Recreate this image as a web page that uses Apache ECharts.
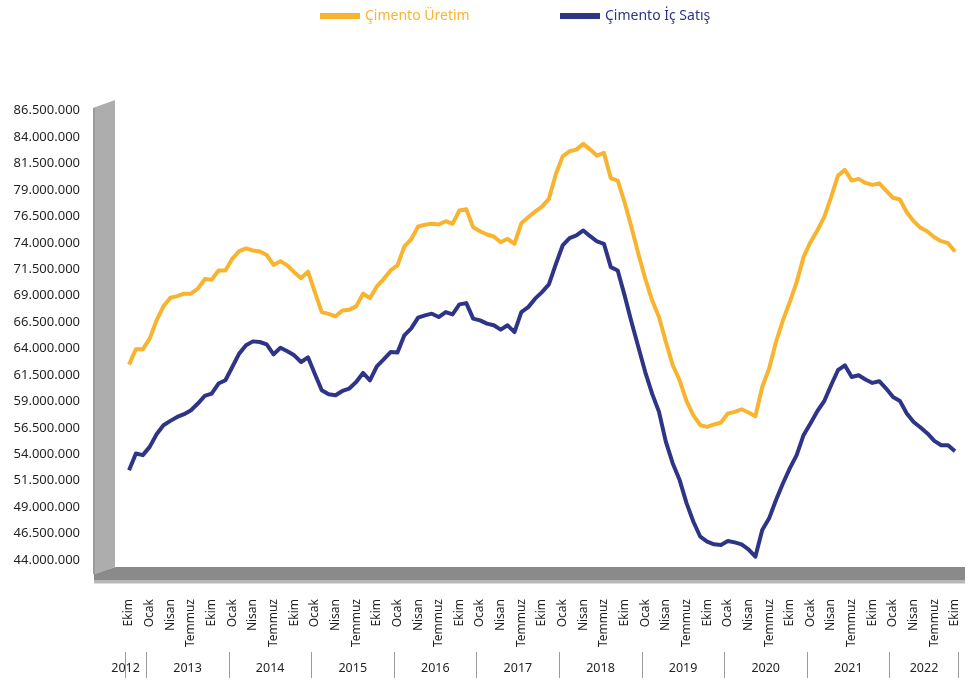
<!DOCTYPE html>
<html>
<head>
<meta charset="utf-8">
<script src="https://cdn.jsdelivr.net/npm/echarts@6/dist/echarts.min.js"></script>
<style>
  html, body { margin: 0; padding: 0; background: #fff; }
  #main { width: 970px; height: 681px; }
</style>
</head>
<body>
<div id="main"></div>
<script>
// month names and years on the axis (Ekim 2012 .. Ekim 2022)
const monthNames = ['Ocak', 'Şubat', 'Mart', 'Nisan', 'Mayıs', 'Haziran', 'Temmuz', 'Ağustos', 'Eylül', 'Ekim', 'Kasım', 'Aralık'];
const years = [2012, 2013, 2014, 2015, 2016, 2017, 2018, 2019, 2020, 2021, 2022];
const firstMonth = 9;   // Ekim 2012
const lastMonth = 9;    // Ekim 2022

// y axis ticks (millions)
const yMin = 44;
const yMax = 86.5;
const yStep = 2.5;

// 12-month totals, millions of tonnes
const uretim = [
  62.48, 63.93, 63.93, 64.94, 66.67, 67.99, 68.81, 68.96, 69.19, 69.19, 69.66, 70.57,
  70.51, 71.39, 71.39, 72.49, 73.21, 73.47, 73.28, 73.18, 72.85, 71.91, 72.27, 71.86,
  71.23, 70.66, 71.27, 69.34, 67.45, 67.28, 67.05, 67.61, 67.68, 67.99, 69.19, 68.77,
  69.88, 70.57, 71.39, 71.86, 73.66, 74.34, 75.55, 75.71, 75.80, 75.73, 76.05, 75.80,
  77.06, 77.18, 75.48, 75.10, 74.79, 74.60, 74.06, 74.38, 73.91, 75.86, 76.42, 76.96,
  77.43, 78.16, 80.46, 82.18, 82.66, 82.82, 83.36, 82.82, 82.25, 82.51, 80.11, 79.89,
  77.84, 75.48, 72.97, 70.61, 68.56, 66.98, 64.62, 62.42, 61.00, 59.02, 57.69, 56.75,
  56.59, 56.82, 57.01, 57.86, 58.01, 58.26, 57.95, 57.60, 60.37, 62.11, 64.62, 66.67,
  68.40, 70.28, 72.65, 74.06, 75.17, 76.44, 78.31, 80.36, 80.90, 79.89, 80.05, 79.67,
  79.48, 79.63, 78.95, 78.26, 78.10, 76.90, 76.05, 75.42, 75.07, 74.53, 74.16, 73.97,
  73.18
];
const icSatis = [
  52.50, 54.08, 53.92, 54.70, 55.90, 56.75, 57.16, 57.53, 57.79, 58.17, 58.80, 59.52,
  59.74, 60.69, 61.00, 62.26, 63.52, 64.31, 64.68, 64.62, 64.40, 63.46, 64.07, 63.74,
  63.36, 62.73, 63.17, 61.60, 60.06, 59.68, 59.58, 59.99, 60.22, 60.84, 61.69, 61.00,
  62.32, 62.98, 63.67, 63.62, 65.25, 65.91, 66.92, 67.14, 67.30, 66.98, 67.45, 67.23,
  68.18, 68.30, 66.83, 66.67, 66.36, 66.20, 65.79, 66.20, 65.56, 67.45, 67.92, 68.72,
  69.34, 70.07, 71.96, 73.75, 74.44, 74.70, 75.17, 74.63, 74.13, 73.91, 71.70, 71.39,
  69.03, 66.51, 64.15, 61.78, 59.74, 58.01, 55.17, 53.13, 51.56, 49.38, 47.62, 46.20,
  45.73, 45.48, 45.42, 45.79, 45.67, 45.48, 45.01, 44.31, 46.83, 47.94, 49.67, 51.24,
  52.66, 53.92, 55.81, 56.91, 58.07, 59.02, 60.53, 61.95, 62.42, 61.31, 61.47, 61.07,
  60.75, 60.91, 60.22, 59.42, 59.05, 57.86, 57.06, 56.53, 55.97, 55.27, 54.86, 54.86,
  54.29
];

const ORANGE = '#F8B42E';
const NAVY = '#2E3586';
const TEXT = '#231F20';

// categories: "Ekim 2012" ...
const categories = [];
const yearOf = [];
years.forEach((y, yi) => {
  const m0 = yi === 0 ? firstMonth : 0;
  const m1 = yi === years.length - 1 ? lastMonth : 11;
  for (let m = m0; m <= m1; m++) {
    categories.push(monthNames[m] + ' ' + y);
    yearOf.push(y);
  }
});

// year bands on a value axis that lines up with the category bands
const yearBounds = [];
const yearCenters = [];
years.forEach((y, yi) => {
  const first = yearOf.indexOf(y);
  const last = yearOf.lastIndexOf(y);
  yearBounds.push(first - 0.5);
  yearCenters.push(yi === 0 ? first - 0.5 : (first + last) / 2);
});
yearBounds.push(categories.length - 0.5);

const fmt = v => Math.round(v * 1e6).toString().replace(/\B(?=(\d{3})+(?!\d))/g, '.');

const W = 970, H = 681;
const grid = { left: 125.6, right: 11.6, top: 110.7, bottom: 121 };
const gx = grid.left;
const gy = H - grid.bottom;

const chart = echarts.init(document.getElementById('main'));

const option = {
  backgroundColor: '#fff',
  animation: false,
  textStyle: { fontFamily: 'Noto Sans' },
  legend: [
    {
      data: [{ name: 'Çimento Üretim', textStyle: { color: ORANGE } }],
      left: 315, top: 4,
      icon: 'rect', itemWidth: 40, itemHeight: 6, itemGap: 8,
      textStyle: { fontSize: 14, fontFamily: 'Noto Sans' }
    },
    {
      data: [{ name: 'Çimento İç Satış', textStyle: { color: NAVY } }],
      left: 555, top: 4,
      icon: 'rect', itemWidth: 40, itemHeight: 6, itemGap: 8,
      textStyle: { fontSize: 14, fontFamily: 'Noto Sans' }
    }
  ],
  grid: grid,
  xAxis: [
    {
      type: 'category',
      data: categories,
      boundaryGap: true,
      axisLine: { show: false },
      axisTick: { show: false },
      axisLabel: {
        interval: i => i % 3 === 0,
        rotate: 90,
        margin: 39,
        fontSize: 12,
        color: TEXT,
        formatter: v => v.split(' ')[0]
      }
    },
    {
      type: 'value',
      position: 'bottom',
      offset: 92,
      min: -0.5,
      max: categories.length - 0.5,
      splitLine: { show: false },
      axisLine: { show: false },
      axisTick: {
        show: true,
        length: 26,
        customValues: yearBounds,
        lineStyle: { color: '#9a9a9a', width: 1 }
      },
      axisLabel: {
        customValues: yearCenters,
        margin: 10,
        fontSize: 12.5,
        color: TEXT,
        formatter: v => String(years[yearCenters.indexOf(v)])
      }
    }
  ],
  yAxis: {
    type: 'value',
    min: yMin,
    max: yMax,
    interval: yStep,
    splitLine: { show: false },
    axisLine: { show: false },
    axisTick: { show: false },
    axisLabel: {
      margin: 45.6,
      fontSize: 13,
      color: TEXT,
      formatter: fmt
    }
  },
  graphic: [
    // floor slab
    {
      type: 'polygon', silent: true, z: -1,
      shape: { points: [[gx - 31.6, gy + 14], [gx - 10.6, gy + 7], [W - 5, gy + 7], [W - 5, gy + 20], [gx - 31.6, gy + 20]] },
      style: { fill: '#8a8a8a' }
    },
    {
      type: 'rect', silent: true, z: -1,
      shape: { x: gx - 31.6, y: gy + 20, width: W - 5 - (gx - 31.6), height: 3.5 },
      style: { fill: '#b8b8b8' }
    },
    // back wall
    {
      type: 'polygon', silent: true, z: -1,
      shape: { points: [[gx - 32.6, gy - 452], [gx - 30.6, gy - 452.7], [gx - 30.6, gy + 14], [gx - 32.6, gy + 14]] },
      style: { fill: '#9c9c9c' }
    },
    {
      type: 'polygon', silent: true, z: -1,
      shape: { points: [[gx - 30.6, gy - 452.7], [gx - 10.6, gy - 460], [gx - 10.6, gy + 7], [gx - 30.6, gy + 14]] },
      style: { fill: '#adadad' }
    }
  ],
  series: [
    {
      name: 'Çimento Üretim',
      type: 'line',
      data: uretim,
      showSymbol: false,
      symbol: 'none',
      color: ORANGE,
      lineStyle: { width: 4, color: ORANGE, join: 'round' }
    },
    {
      name: 'Çimento İç Satış',
      type: 'line',
      data: icSatis,
      showSymbol: false,
      symbol: 'none',
      color: NAVY,
      lineStyle: { width: 4, color: NAVY, join: 'round' }
    }
  ]
};

chart.setOption(option);
</script>
</body>
</html>
